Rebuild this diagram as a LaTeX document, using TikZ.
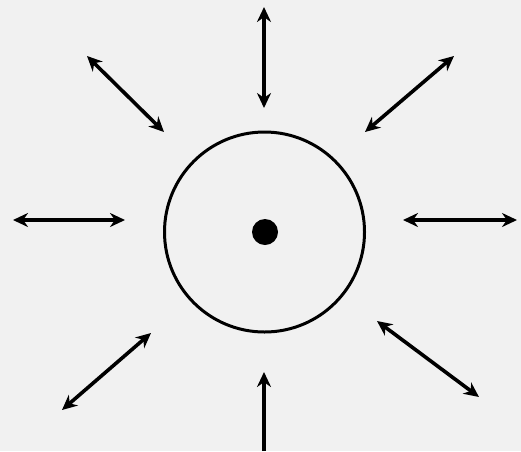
\documentclass[tikz,border=0pt]{standalone}
\usetikzlibrary{arrows.meta}
\definecolor{paper}{HTML}{F1F1F1}

\begin{document}
\begin{tikzpicture}[x=1pt, y=-1pt,
    spoke/.style={line width=3.6pt, {Stealth[length=15pt, width=14pt]}-{Stealth[length=15pt, width=14pt]}},
    halfspoke/.style={line width=3.6pt, -{Stealth[length=15pt, width=14pt]}}]
    \fill[paper] (0,0) rectangle (521,451);
    \useasboundingbox (0,0) rectangle (521,451);
    % ---------------- cell with its centre dot
    \node[draw, circle, line width=3pt, minimum size=200pt, inner sep=0pt] (cell) at (264.5,232) {};
    \node[fill, circle, minimum size=26pt, inner sep=0pt] (core) at (265,232) {};
    % ---------------- arrows round the cell
    \coordinate (n1) at (264,7);    \coordinate (n2) at (264,108);
    \coordinate (w1) at (13,220);   \coordinate (w2) at (125,220);
    \coordinate (e1) at (403,220);  \coordinate (e2) at (517,220);
    \coordinate (nw1) at (87,56);   \coordinate (nw2) at (164,132);
    \coordinate (ne1) at (365,132); \coordinate (ne2) at (454,56);
    \coordinate (sw1) at (62,410);  \coordinate (sw2) at (151,333);
    \coordinate (se1) at (377,321); \coordinate (se2) at (479,397);
    \coordinate (s1) at (264,451);  \coordinate (s2) at (264,372);
    \foreach \dir in {n,w,e,nw,ne,sw,se} \draw[spoke] (\dir1) -- (\dir2);
    \draw[halfspoke] (s1) -- (s2);
\end{tikzpicture}
\end{document}
